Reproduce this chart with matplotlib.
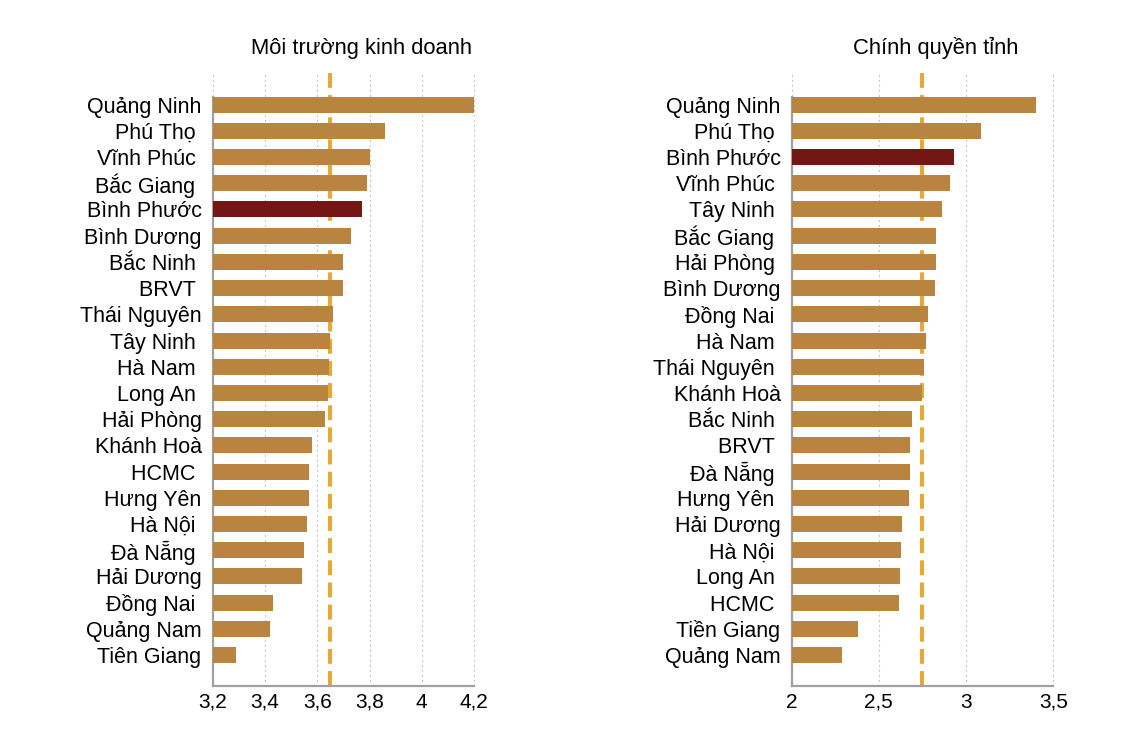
import matplotlib
matplotlib.use("Agg")
import matplotlib.pyplot as plt
from matplotlib.ticker import FuncFormatter

plt.rcParams['font.family'] = ['Liberation Sans', 'DejaVu Sans']

# Môi trường kinh doanh
tinh_mt = ["Quảng Ninh", "Phú Thọ ", "Vĩnh Phúc ", "Bắc Giang ", "Bình Phước", "Bình Dương",
           "Bắc Ninh ", "BRVT ", "Thái Nguyên", "Tây Ninh ", "Hà Nam ", "Long An ",
           "Hải Phòng", "Khánh Hoà", "HCMC ", "Hưng Yên", "Hà Nội ", "Đà Nẵng ",
           "Hải Dương", "Đồng Nai ", "Quảng Nam", "Tiên Giang"]
diem_mt = [4.20, 3.86, 3.80, 3.79, 3.77, 3.73, 3.70, 3.70, 3.66, 3.65, 3.645, 3.64,
           3.63, 3.58, 3.57, 3.57, 3.56, 3.55, 3.54, 3.43, 3.42, 3.29]
tb_mt = 3.65

# Chính quyền tỉnh
tinh_cq = ["Quảng Ninh", "Phú Thọ ", "Bình Phước", "Vĩnh Phúc ", "Tây Ninh ", "Bắc Giang ",
           "Hải Phòng ", "Bình Dương", "Đồng Nai ", "Hà Nam ", "Thái Nguyên ", "Khánh Hoà",
           "Bắc Ninh ", "BRVT ", "Đà Nẵng ", "Hưng Yên ", "Hải Dương", "Hà Nội ",
           "Long An ", "HCMC ", "Tiền Giang", "Quảng Nam"]
diem_cq = [3.40, 3.085, 2.93, 2.91, 2.86, 2.83, 2.825, 2.82, 2.78, 2.77, 2.76, 2.75,
           2.69, 2.68, 2.68, 2.67, 2.63, 2.625, 2.62, 2.615, 2.38, 2.29]
tb_cq = 2.75

mau_bar = "#B8843F"
mau_bp = "#741614"
mau_tb = "#E8A833"

fig = plt.figure(figsize=(11.46, 7.32), dpi=100)


def ve(ax, tinh, diem, tb, xlim, xticks, tieu_de, tx):
    y = list(range(len(tinh)))
    mau = [mau_bp if t.strip() == "Bình Phước" else mau_bar for t in tinh]
    ax.barh(y, [d - xlim[0] for d in diem], left=xlim[0], height=0.61, color=mau, zorder=3)
    ax.axvline(tb, color=mau_tb, lw=2.9, dashes=(3.7, 1.8), zorder=2)
    # nho them chut de duong luoi cuoi khong bi cat
    ax.set_xlim(xlim[0], xlim[1] + (xlim[1] - xlim[0]) * 0.004)
    ax.set_ylim(len(tinh) - 1 + 1.18, -1.22)
    ax.set_yticks(y)
    ax.set_yticklabels(tinh, fontsize=15.5)
    ax.set_xticks(xticks)
    ax.xaxis.set_major_formatter(FuncFormatter(lambda v, p: f"{v:g}".replace(".", ",")))
    ax.tick_params(axis='x', labelsize=15, length=0, pad=5)
    ax.tick_params(axis='y', length=0, pad=8)
    ax.grid(axis='x', color="#9a9a9a", lw=0.8, linestyle=(0, (1, 3.5)), zorder=0)
    for s in ["top", "right"]:
        ax.spines[s].set_visible(False)
    for s in ["left", "bottom"]:
        ax.spines[s].set_color("#a0a0a0")
        ax.spines[s].set_linewidth(1.6)
    # truc doc chi bat dau tu thanh dau tien
    ax.spines["left"].set_bounds(-0.305, len(tinh) - 1 + 1.18)
    ax.spines["bottom"].set_bounds(xlim[0], xlim[1])
    fig.text(tx, 0.934, tieu_de, fontsize=15.8, ha="center", va="center")


ax1 = fig.add_axes([0.1856, 0.0628, 0.229, 0.838])
ve(ax1, tinh_mt, diem_mt, tb_mt, (3.2, 4.2), [3.2, 3.4, 3.6, 3.8, 4.0, 4.2],
   "Môi trường kinh doanh", 0.3155)

ax2 = fig.add_axes([0.6908, 0.0628, 0.2292, 0.838])
ve(ax2, tinh_cq, diem_cq, tb_cq, (2.0, 3.5), [2.0, 2.5, 3.0, 3.5],
   "Chính quyền tỉnh", 0.8163)

fig.savefig("out.png", dpi=100)
